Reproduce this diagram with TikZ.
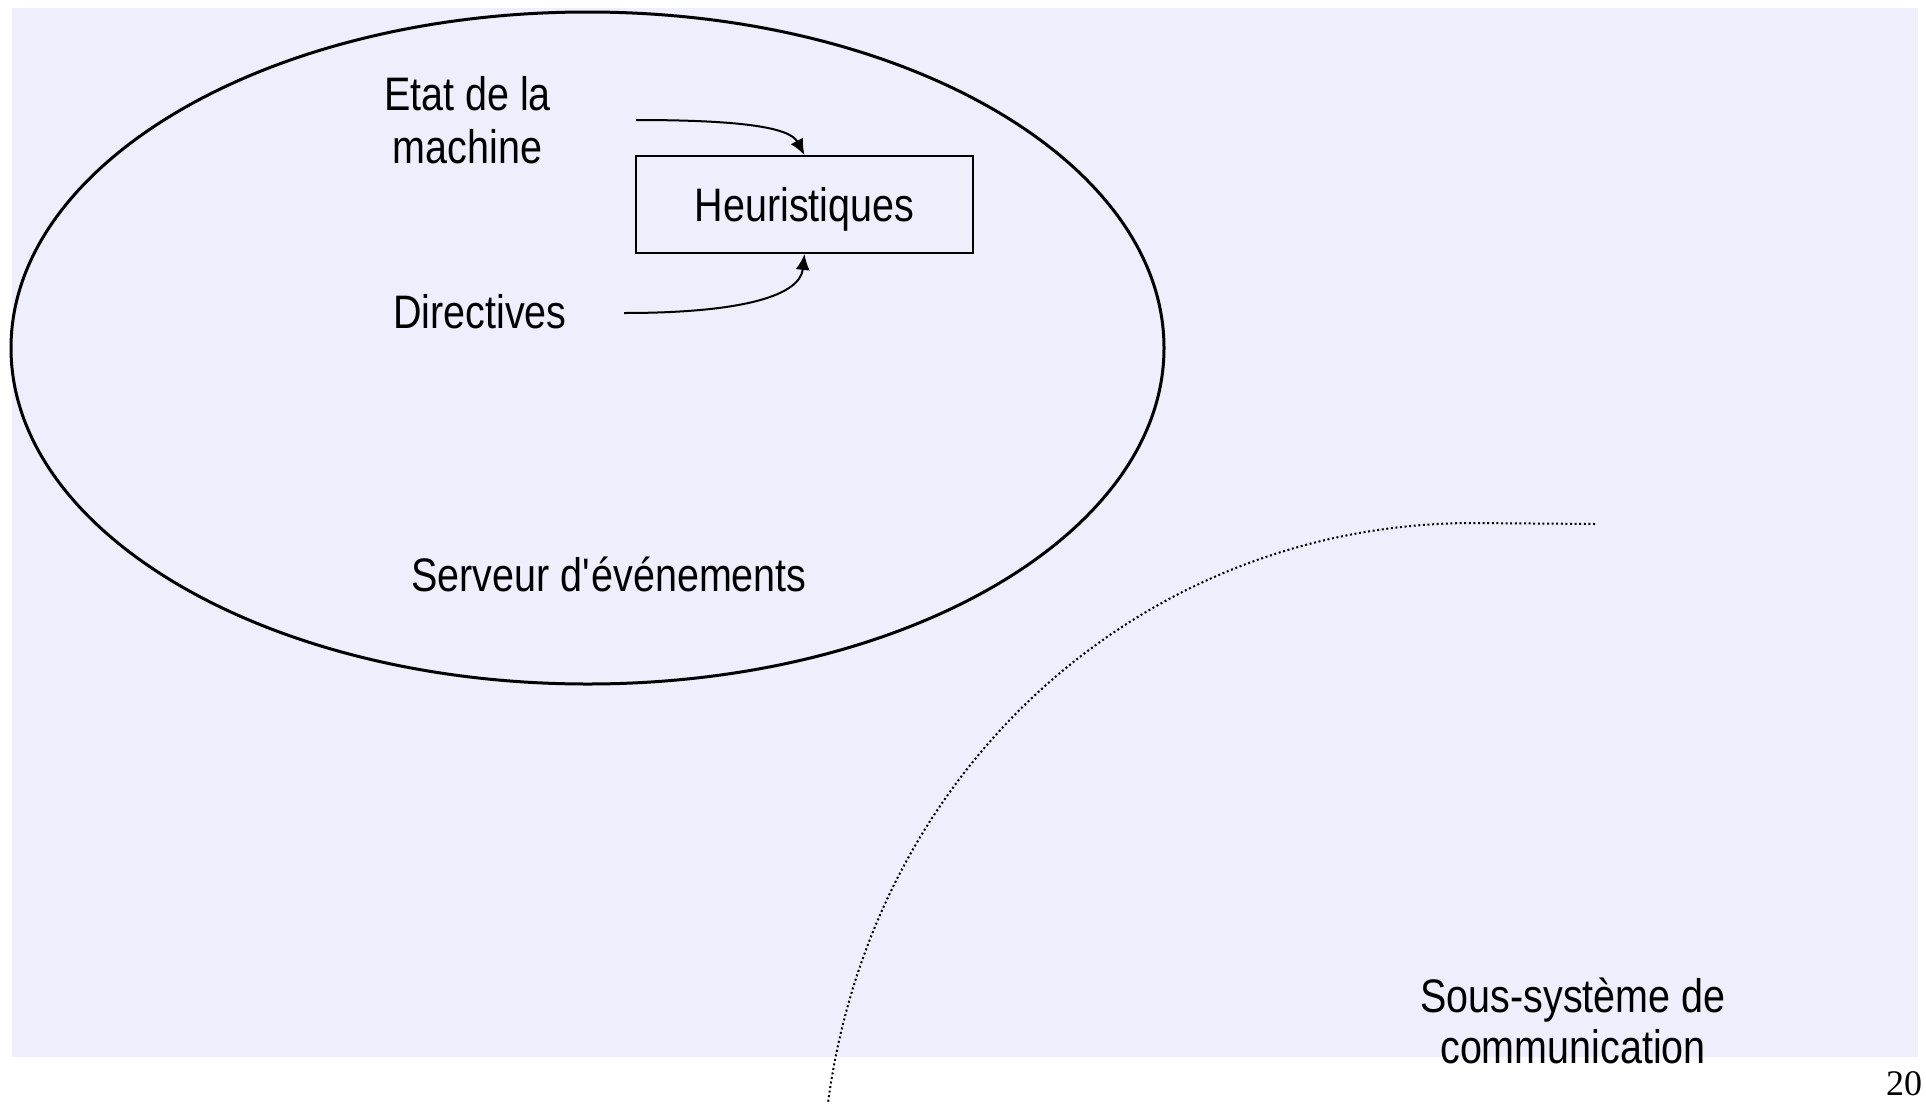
\documentclass[tikz,border=0pt]{standalone}
\usepackage{fontspec}
\setmainfont{Liberation Sans}[FakeStretch=0.84]
\newfontfamily\pagefont{Liberation Serif}
\usetikzlibrary{arrows.meta}
\definecolor{slidebg}{RGB}{238,238,252}
\tikzset{
  lbl/.style={inner sep=0pt, align=center, font=\fontsize{47}{51}\selectfont},
  boxnode/.style={draw, line width=1.8pt, minimum width=337pt, minimum height=97pt,
    inner sep=0pt, text height=33pt, text depth=0pt, font=\fontsize{47}{51}\selectfont},
  feed/.style={line width=2pt, -{Latex[length=16pt,width=14pt]}},
  ring/.style={line width=3pt},
  boundary/.style={line width=2pt, dash pattern=on 2pt off 2.6pt}
}
\begin{document}
\begin{tikzpicture}[x=1pt, y=-1pt]
  \useasboundingbox (0,0) rectangle (1926,1103);
  % slide background
  \fill[slidebg] (12,8) rectangle (1918,1057);

  % event server
  \draw[ring] (587.5,348) ellipse [x radius=576.5, y radius=336];
  \node[lbl, anchor=base] (serveur) at (609,591) {Serveur d\textquotesingle événements};

  % heuristics box and its inputs
  \node[boxnode] (heur) at (804.5,204.5) {Heuristiques};
  \node[lbl, anchor=base] (etat) at (467.5,110) {Etat de la};
  \node[lbl, anchor=base] (machine) at (467.5,163) {machine};
  \node[lbl, anchor=base] (directives) at (480,328) {Directives};

  \coordinate (etatout) at (636,120);
  \coordinate (dirout) at (624,313);
  \draw[feed] (etatout) .. controls (745,120) and (790,128) .. (heur.north);
  \draw[feed] (dirout) .. controls (745,313) and (800,295) .. (heur.south);

  % communication subsystem boundary
  \coordinate (commA) at (1595,524);
  \coordinate (commB) at (1470,523);
  \coordinate (commC) at (828,1103);
  \draw[boundary] (commA) -- (commB) .. controls (1140,525) and (872,770) .. (commC);
  \node[lbl, anchor=base] (comm1) at (1573,1012) {Sous-système de};
  \node[lbl, anchor=base] (comm2) at (1573,1063) {communication};

  % page number
  \node[inner sep=0pt, anchor=base, font=\pagefont\fontsize{36}{40}\selectfont] (page) at (1904,1095) {20};
\end{tikzpicture}
\end{document}
